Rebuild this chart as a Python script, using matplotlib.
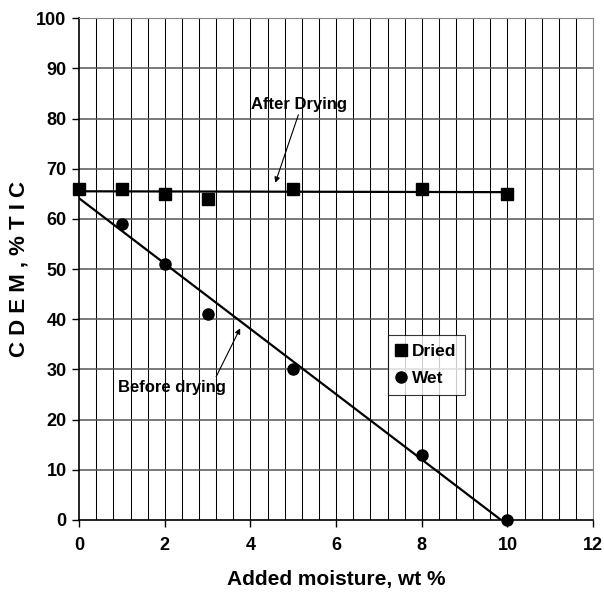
import numpy as np
import matplotlib
matplotlib.use('Agg')
import matplotlib.pyplot as plt

plt.rc('font', family=['Liberation Sans Narrow', 'Liberation Sans', 'DejaVu Sans'], weight='bold')

# data
moisture = [0, 1, 2, 3, 5, 8, 10]
dried = [66, 66, 65, 64, 66, 66, 65]
wet_x = [0, 1, 2, 3, 5, 8, 10]
wet = [66, 59, 51, 41, 30, 13, 0]

x_ticks = [0, 2, 4, 6, 8, 10, 12]
y_ticks = [0, 10, 20, 30, 40, 50, 60, 70, 80, 90, 100]


def main():
    fig = plt.figure(figsize=[6.04, 6.05], dpi=100)
    ax = fig.add_axes([0.131, 0.1405, 0.851, 0.8295])

    # grid: fine verticals, major horizontals
    for gx in np.arange(0.4, 12.01, 0.4):
        ax.axvline(gx, color='black', lw=0.75, zorder=1)
    for gy in y_ticks[1:]:
        ax.axhline(gy, color='#555555', lw=1.1, zorder=1)

    # linear trendlines
    xs = np.array([0, 10])
    p_dry = np.polyfit(moisture, dried, 1)
    p_wet = np.polyfit(wet_x, wet, 1)
    ax.plot(xs, np.polyval(p_dry, xs), color='black', lw=1.6, zorder=2)
    ax.plot(xs, np.polyval(p_wet, xs), color='black', lw=1.6, zorder=2)

    ax.plot(moisture, dried, 's', color='black', ms=8.5, label='Dried', zorder=3, clip_on=False)
    ax.plot(wet_x, wet, 'o', color='black', ms=8, label='Wet', zorder=3, clip_on=False)

    ax.annotate('After Drying', xy=(4.58, 67.2), xytext=(4.02, 82.8),
                fontsize=12, va='center', ha='left',
                arrowprops=dict(arrowstyle='-|>', color='black', lw=0.8,
                                shrinkA=0, shrinkB=0, mutation_scale=8,
                                relpos=(0.5, 0.0)))
    ax.annotate('Before drying', xy=(3.76, 38.2), xytext=(0.9, 26.5),
                fontsize=12, va='center', ha='left',
                arrowprops=dict(arrowstyle='-|>', color='black', lw=0.8,
                                shrinkA=0, shrinkB=0, mutation_scale=8,
                                relpos=(0.9, 1.0)))

    leg = ax.legend(loc='upper left', bbox_to_anchor=(7.2 / 12, 36.8 / 100),
                    fontsize=12.5, frameon=True, fancybox=False, handlelength=0.6,
                    handletextpad=0.3, borderpad=0.5, labelspacing=0.7,
                    borderaxespad=0)
    leg.get_frame().set_edgecolor('black')
    leg.get_frame().set_linewidth(0.8)
    leg.set_zorder(5)

    ax.set_xlim(0, 12)
    ax.set_ylim(0, 100)
    ax.set_xticks(x_ticks)
    ax.set_yticks(y_ticks)
    ax.tick_params(direction='out', length=5, width=1, labelsize=13)
    ax.tick_params(axis='y', pad=4)
    ax.tick_params(axis='x', pad=7)
    for lab in ax.get_xticklabels() + ax.get_yticklabels():
        lab.set_fontweight('bold')

    ax.spines['left'].set_linewidth(1.2)
    ax.spines['bottom'].set_linewidth(1.2)
    ax.spines['top'].set_color('#888888')
    ax.spines['right'].set_color('#888888')

    ax.set_xlabel('Added moisture, wt %', fontsize=15, fontweight='bold', labelpad=12)
    ax.set_ylabel('C D E M , % T I C', fontsize=16, fontweight='bold', labelpad=5)

    fig.savefig('out.png', dpi=100)


if __name__ == "__main__":
    main()
